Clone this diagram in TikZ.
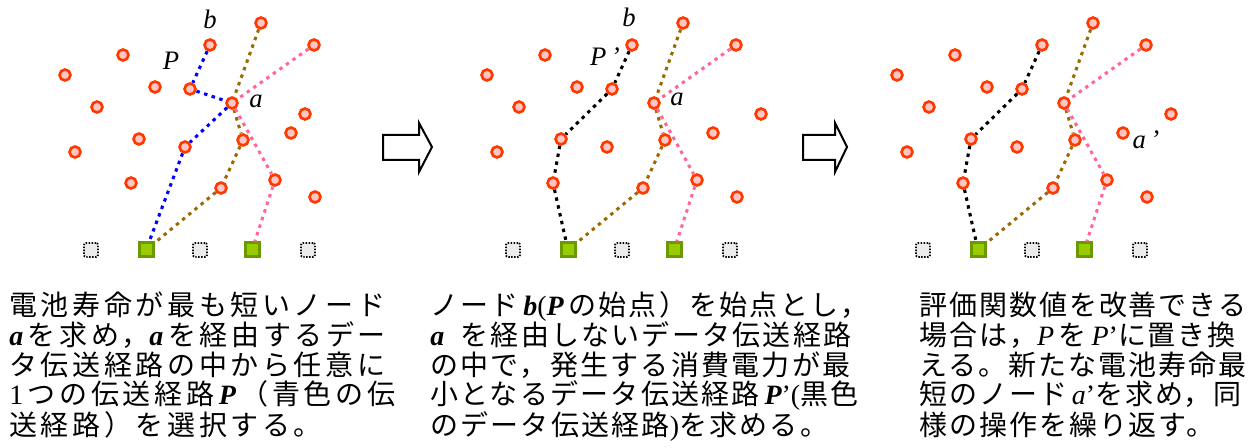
\documentclass[tikz,border=0pt]{standalone}
\usepackage{fontspec}
\setmainfont{Liberation Serif}
\newfontfamily\jpa[LetterSpace=13]{Noto Sans CJK JP}
\newfontfamily\jpb[LetterSpace=8]{Noto Sans CJK JP}
\newfontfamily\jpc[LetterSpace=7]{Noto Sans CJK JP}
\newcommand{\mybi}[1]{{\rmfamily\bfseries\itshape #1}}
\newcommand{\myit}[1]{{\rmfamily\itshape #1}}
\definecolor{nodered}{HTML}{FF3A00}
\definecolor{nodefill}{HTML}{FFC6C6}
\definecolor{sinkdark}{HTML}{6A9A00}
\definecolor{sinklight}{HTML}{99CC00}
\definecolor{pathblue}{HTML}{0000FF}
\definecolor{pathbrown}{HTML}{9C6A00}
\definecolor{pathpink}{HTML}{FF6699}
\tikzset{
  sensor/.style={circle, draw=nodered, fill=nodefill, line width=2pt, minimum size=8.2pt, inner sep=0pt},
  sink/.style={rectangle, draw=sinkdark, fill=sinklight, line width=2.25pt, minimum size=10.5pt, inner sep=0pt},
  idle/.style={rectangle, draw=black, dash pattern=on 1.1pt off 1.1pt, fill=gray!15, line width=1.4pt, rounded corners=1.5pt, minimum size=10.5pt, inner sep=0pt},
  route/.style={line width=2.3pt, dash pattern=on 2.6pt off 3.4pt},
  lbl/.style={font=\rmfamily\itshape\fontsize{20}{20}\selectfont, inner sep=0pt},
  desc/.style={anchor=base west, inner sep=0pt},
  desca/.style={desc, font=\jpa\fontsize{21}{21}\selectfont},
  descb/.style={desc, font=\jpb\fontsize{21}{21}\selectfont},
  descc/.style={desc, font=\jpc\fontsize{21}{21}\selectfont},
  blockarrow/.style={draw=black, fill=white, line width=1.5pt, line join=miter}
}
\begin{document}
\begin{tikzpicture}[x=0.75pt, y=-0.75pt]
\useasboundingbox (0,0) rectangle (1255,448);
\foreach \p/\ox in {1/-422, 2/0, 3/410} {
  \node[sensor] (n\p-1) at (\ox+683,23) {};
  \node[sensor] (n\p-2) at (\ox+632,45) {};
  \node[sensor] (n\p-3) at (\ox+736,45) {};
  \node[sensor] (n\p-4) at (\ox+545,55) {};
  \node[sensor] (n\p-5) at (\ox+487,75) {};
  \node[sensor] (n\p-6) at (\ox+577,87) {};
  \node[sensor] (n\p-7) at (\ox+612,89) {};
  \node[sensor] (n\p-8) at (\ox+654,103) {};
  \node[sensor] (n\p-9) at (\ox+519,107) {};
  \node[sensor] (n\p-11) at (\ox+713,133) {};
  \node[sensor] (n\p-12) at (\ox+561,139) {};
  \node[sensor] (n\p-13) at (\ox+607,147) {};
  \node[sensor] (n\p-14) at (\ox+665,140) {};
  \node[sensor] (n\p-15) at (\ox+497,152) {};
  \node[sensor] (n\p-16) at (\ox+553,183) {};
  \node[sensor] (n\p-17) at (\ox+697,180) {};
  \node[sensor] (n\p-18) at (\ox+643,188) {};
  \node[sensor] (n\p-19) at (\ox+737,197) {};
  \node[idle] (s\p-1) at (\ox+513,250) {};
  \node[sink] (s\p-2) at (\ox+568,250) {};
  \node[idle] (s\p-3) at (\ox+622,250) {};
  \node[sink] (s\p-4) at (\ox+674,250) {};
  \node[idle] (s\p-5) at (\ox+730,250) {};
  \draw[route, pathbrown] (n\p-1) -- (n\p-8) -- (n\p-14) -- (n\p-18) -- (s\p-2);
  \draw[route, pathpink] (n\p-3) -- (n\p-8) -- (n\p-17) -- (s\p-4);
}
\node[sensor] (n1-10) at (305,114) {};
\node[sensor] (n2-10) at (761,114) {};
\node[sensor] (n3-10) at (1171,114) {};
% path P (blue) in panel 1
\draw[route, pathblue] (n1-2) -- (n1-7) -- (n1-8) -- (n1-13) -- (s1-2);
% path P' (black) in panels 2 and 3
\draw[route, black] (n2-2) -- (n2-7) -- (n2-12) -- (n2-16) -- (s2-2);
\draw[route, black] (n3-2) -- (n3-7) -- (n3-12) -- (n3-16) -- (s3-2);
% labels
\node[lbl] (lb1) at (210,19) {b};
\node[lbl] (lp1) at (171,61) {P};
\node[lbl] (la1) at (256,101) {a};
\node[lbl] (lb2) at (629,17) {b};
\node[lbl] (lp2) at (605,57) {P\,’};
\node[lbl] (la2) at (677,99) {a};
\node[lbl] (la3) at (1146,140) {a\,’};
% block arrows
\draw[blockarrow] (383,135) -- (419,135) -- (419,123) -- (432,147) -- (419,172) -- (419,160) -- (383,160) -- cycle;
\draw[blockarrow] (803,135) -- (835,135) -- (835,123) -- (847,147) -- (835,172) -- (835,160) -- (803,160) -- cycle;
% texts panel 1
\node[desca] (t1a) at (9,316) {電池寿命が最も短いノード};
\node[desca] (t1b) at (9,346) {\mybi{a}\,を求め，\mybi{a}\,を経由するデー};
\node[desca] (t1c) at (9,376) {タ伝送経路の中から任意に};
\node[desca] (t1d) at (9,405) {{\rmfamily 1}\,つの伝送経路\,\mybi{P}\,（青色の伝};
\node[desca] (t1e) at (9,435) {送経路）を選択する。};
% texts panel 2
\node[descb] (t2a) at (430,316) {ノード\,\mybi{b}{\rmfamily (}\mybi{P}\,の始点）を始点とし，};
\node[descb] (t2b) at (430,346) {\mybi{a}\; を経由しないデータ伝送経路};
\node[descb] (t2c) at (430,376) {の中で，発生する消費電力が最};
\node[descb] (t2d) at (430,405) {小となるデータ伝送経路\,\mybi{P}{\rmfamily ’(}黒色};
\node[descb] (t2e) at (430,435) {のデータ伝送経路{\rmfamily )}を求める。};
% texts panel 3
\node[descc] (t3a) at (919,316) {評価関数値を改善できる};
\node[descc] (t3b) at (919,346) {場合は，\myit{P}\,を\,\myit{P}{\rmfamily ’}に置き換};
\node[descc] (t3c) at (919,376) {える。新たな電池寿命最};
\node[descc] (t3d) at (919,405) {短のノード\,\myit{a}{\rmfamily ’}を求め，同};
\node[descc] (t3e) at (919,435) {様の操作を繰り返す。};
\end{tikzpicture}
\end{document}
